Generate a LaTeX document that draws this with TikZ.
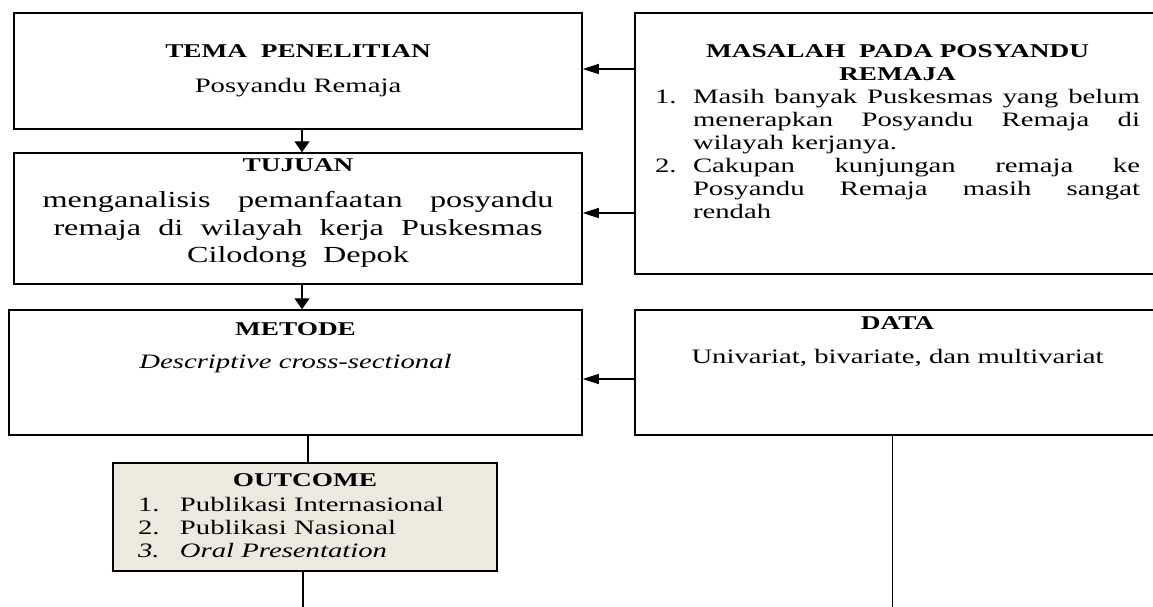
\documentclass[tikz,border=0pt]{standalone}
\usepackage{fontspec}
\setmainfont{Liberation Serif}[FakeStretch=1.4]
\usetikzlibrary{arrows.meta, positioning}
\definecolor{outcomebg}{RGB}{236,233,222}
\newcommand{\headfont}{\fontsize{19.5}{23}\bfseries}

\begin{document}
\begin{tikzpicture}[x=1pt, y=-1pt,
  box/.style={draw, line width=1.5pt, inner sep=0pt},
  txt/.style={inner sep=0pt, align=center, font=\fontsize{20.5}{23}\selectfont},
  harrow/.style={-{Triangle[length=16pt, width=10pt]}, line width=1.4pt},
  varrow/.style={-{Triangle[length=11pt, width=15pt]}, line width=1.4pt},
  link/.style={line width=1.5pt}
]
\clip (0,0) rectangle (1153,606);
\useasboundingbox (0,0) rectangle (1153,606);
\coordinate (bottom) at (0,610);

% Left column
\node[box, txt, minimum width=568pt, minimum height=116pt] (tema) at (298,71)
  {{\headfont TEMA\ \ PENELITIAN}\\[12pt] Posyandu Remaja};

\node[box, minimum width=568pt, minimum height=131pt] (tujuan) at (298,218.5) {};
\node[txt, below=6pt of tujuan.north, font=\fontsize{23}{27.5}\selectfont] (tujuantxt)
  {{\headfont TUJUAN}\\[9pt]
   \makebox[511pt][s]{menganalisis pemanfaatan posyandu}\\
   \makebox[489pt][s]{remaja di wilayah kerja Puskesmas}\\
   Cilodong\ \ Depok};

\node[box, minimum width=573pt, minimum height=125pt] (metode) at (295.5,372.5) {};
\node[txt, below=13pt of metode.north] (metodetxt)
  {{\headfont METODE}\\[10pt] \textit{Descriptive cross-sectional}};

\node[box, txt, fill=outcomebg, minimum width=384pt, minimum height=108pt] (outcome) at (305,517)
  {\begin{tabular}{@{}p{42pt}@{}p{292pt}@{}}
   \multicolumn{2}{@{}c@{}}{\headfont OUTCOME}\\[2pt]
   1. & Publikasi Internasional\\
   2. & Publikasi Nasional\\
   \textit{3.} & \textit{Oral Presentation}
   \end{tabular}};

% Right column
\node[box, minimum width=525pt, minimum height=261pt] (masalah) at (897.5,143.5) {};
\node[txt, below=29pt of masalah.north] (masalahtxt)
  {\begin{tabular}{@{}p{38pt}@{}p{447pt}@{}}
   \multicolumn{2}{@{}c@{}}{\headfont MASALAH\ \ PADA POSYANDU}\\
   \multicolumn{2}{@{}c@{}}{\headfont REMAJA}\\
   1. & \makebox[447pt][s]{Masih banyak Puskesmas yang belum}\\
      & \makebox[447pt][s]{menerapkan Posyandu Remaja di}\\
      & wilayah kerjanya.\\
   2. & \makebox[447pt][s]{Cakupan kunjungan remaja ke}\\
      & \makebox[447pt][s]{Posyandu Remaja masih sangat}\\
      & rendah
   \end{tabular}};

\node[box, minimum width=525pt, minimum height=125pt] (data) at (897.5,372.5) {};
\node[txt, below=7pt of data.north] (datatxt)
  {{\headfont DATA}\\[11pt] Univariat, bivariate, dan multivariat};

% Arrows
\draw[varrow] ([xshift=4pt]tema.south) -- ([xshift=4pt]tujuan.north);
\draw[varrow] ([xshift=4pt]tujuan.south) -- ([xshift=4pt]tujuan.south |- metode.north);
\draw[link] ([xshift=12.5pt]metode.south) -- ([xshift=12.5pt]metode.south |- outcome.north);
\draw[link] ([xshift=-2pt]outcome.south) -- ([xshift=-2pt]outcome.south |- bottom);
\draw[link] ([xshift=-5pt]data.south) -- ([xshift=-5pt]data.south |- bottom);

\draw[harrow] ([yshift=2pt]tema.east -| masalah.west) -- ([yshift=2pt]tema.east);
\draw[harrow] ([yshift=5.5pt]tujuan.east -| masalah.west) -- ([yshift=5.5pt]tujuan.east);
\draw[harrow] ([yshift=-6.5pt]metode.east -| data.west) -- ([yshift=-6.5pt]metode.east);
\end{tikzpicture}
\end{document}
